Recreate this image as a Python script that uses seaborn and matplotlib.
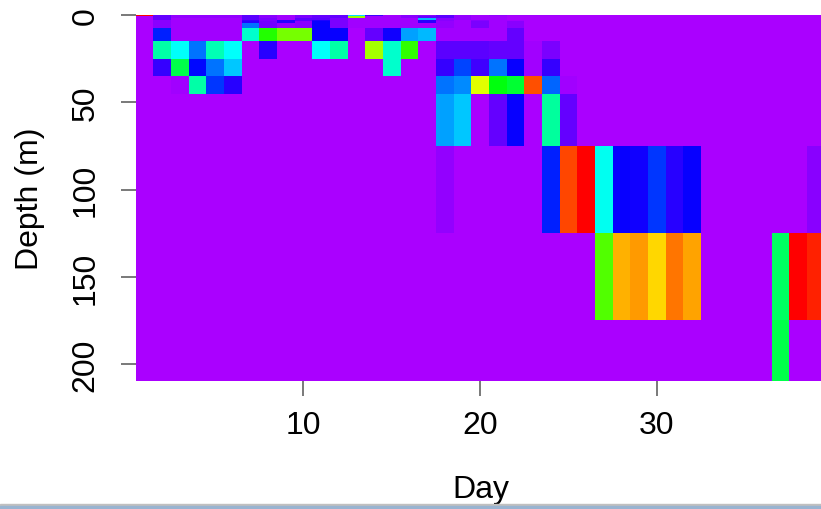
import colorsys

import numpy as np
import matplotlib
matplotlib.use("Agg")
import matplotlib.pyplot as plt
from matplotlib.colors import ListedColormap
from matplotlib.patches import Rectangle
import seaborn as sns

# ---------------------------------------------------------------------
# data: one value per depth level (rows) and day (columns), scale 0-100
# ---------------------------------------------------------------------
days = list(range(1, 40))
depths = [0, 1, 2, 3, 4, 5, 10, 20, 30, 40, 50, 100, 150, 200]
x_ticks = [10, 20, 30]
y_ticks = [0, 50, 100, 150, 200]

#        d1 .. d10                          d11 .. d20                              d21 .. d30                          d31 .. d39
z_0m   = [100, 6, 2, 2, 2, 2, 7, 3, 1, 4,   6, 6, 33, 9, 1, 3, 3, 7, 2, 1,          2, 1, 1, 1, 0, 0, 0, 0, 0, 0,       0, 0, 0, 0, 0, 0, 0, 0, 0]
z_1m   = [0, 6, 2, 2, 2, 2, 7, 3, 1, 4,     6, 6, 70, 1, 1, 3, 6, 7, 2, 1,          1, 0, 0, 0, 0, 0, 0, 0, 0, 0,       0, 0, 0, 0, 0, 0, 0, 0, 0]
z_2m   = [0, 6, 1, 1, 1, 1, 7, 4, 1, 7,     7, 4, 1, 1, 1, 1, 30, 3, 2, 1,          1, 0, 0, 0, 0, 0, 0, 0, 0, 0,       0, 0, 0, 0, 0, 0, 0, 0, 0]
z_3m   = [0, 3, 1, 1, 1, 1, 10, 4, 11, 7,   12, 4, 1, 1, 1, 1, 11, 3, 1, 3,         1, 1, 0, 0, 0, 0, 0, 0, 0, 0,       0, 0, 0, 0, 0, 0, 0, 0, 0]
z_4m   = [0, 3, 1, 1, 1, 1, 11, 5, 11, 3,   14, 4, 1, 1, 1, 1, 11, 2, 1, 4,         1, 3, 0, 0, 0, 0, 0, 0, 0, 0,       0, 0, 0, 0, 0, 0, 0, 0, 0]
z_5m   = [0, 3, 1, 1, 1, 1, 24, 5, 2, 3,    14, 4, 1, 1, 1, 1, 1, 2, 1, 4,          1, 3, 0, 0, 0, 0, 0, 0, 0, 0,       0, 0, 0, 0, 0, 0, 0, 0, 0]
z_10m  = [0, 17, 1, 1, 1, 1, 40, 60, 67, 67, 14, 14, 0, 6, 13, 28, 30, 1, 1, 1,     1, 6, 0, 0, 0, 0, 0, 0, 0, 0,       0, 0, 0, 0, 0, 0, 0, 0, 0]
z_20m  = [0, 43, 36, 24, 42, 36, 0, 11, 0, 0, 36, 43, 0, 71, 40, 61, 0, 7, 7, 7,    6, 6, 1, 4, 0, 0, 0, 0, 0, 0,       0, 0, 0, 0, 0, 0, 0, 0, 0]
z_30m  = [0, 10, 51, 15, 24, 31, 0, 0, 0, 0, 0, 0, 0, 0, 40, 0, 0, 10, 20, 9,       24, 14, 1, 10, 0, 0, 0, 0, 0, 0,   0, 0, 0, 0, 0, 0, 0, 0, 0]
z_40m  = [0, 0, 1, 43, 19, 11, 0, 0, 0, 0,  0, 0, 0, 0, 0, 0, 0, 24, 26, 76,        56, 53, 93, 23, 1, 0, 0, 0, 0, 0,   0, 0, 0, 0, 0, 0, 0, 0, 0]
z_50m  = [0, 0, 0, 0, 0, 0, 0, 0, 0, 0,     0, 0, 0, 0, 0, 0, 0, 28, 31, 0,         6, 14, 0, 44, 6, 0, 0, 0, 0, 0,     0, 0, 0, 0, 0, 0, 0, 0, 0]
z_100m = [0, 0, 0, 0, 0, 0, 0, 0, 0, 0,     0, 0, 0, 0, 0, 0, 0, 2, 0, 0,           0, 0, 0, 17, 94, 100, 37, 14, 13, 19, 11, 14, 0, 0, 0, 0, 0, 0, 3]
z_150m = [0, 0, 0, 0, 0, 0, 0, 0, 0, 0,     0, 0, 0, 0, 0, 0, 0, 0, 0, 0,           0, 0, 0, 0, 0, 0, 64, 85, 87, 82,   90, 86, 0, 0, 0, 0, 49, 100, 97]
z_200m = [0, 0, 0, 0, 0, 0, 0, 0, 0, 0,     0, 0, 0, 0, 0, 0, 0, 0, 0, 0,           0, 0, 0, 0, 0, 0, 0, 0, 0, 0,       0, 0, 0, 0, 0, 0, 51, 0, 0]

z = np.array([z_0m, z_1m, z_2m, z_3m, z_4m, z_5m, z_10m, z_20m,
              z_30m, z_40m, z_50m, z_100m, z_150m, z_200m], dtype=float)

# R-style rainbow, purple (low) -> red (high)
cmap = ListedColormap([colorsys.hsv_to_rgb((1 - i / 255) * 280 / 360, 1, 1)
                       for i in range(256)])

sns.set_style("ticks")
plt.rcParams["font.family"] = ["Liberation Sans", "DejaVu Sans"]
plt.rcParams["text.color"] = "black"
plt.rcParams["axes.labelcolor"] = "black"

fig = plt.figure(figsize=(8.21, 5.10), dpi=100)
ax = fig.add_axes([135.5 / 821, 1 - 382 / 510, 1 - 135.5 / 821, (382 - 16.3) / 510])

ax.pcolormesh(days, depths, z, shading="nearest", cmap=cmap, vmin=0, vmax=100,
              edgecolor="none", linewidth=0, antialiased=False)
ax.set_xlim(0.5, 39.3)
ax.set_ylim(209.7, 0)

for s in ax.spines.values():
    s.set_visible(False)

ax.set_xticks(x_ticks)
ax.set_yticks(y_ticks)
ax.set_yticklabels([str(t) for t in y_ticks], rotation=90, va="center")
ax.tick_params(axis="both", direction="out", length=11, width=1.1,
               color="#555555", labelcolor="black", labelsize=23)
ax.tick_params(axis="x", pad=10)
ax.tick_params(axis="y", pad=14)

ax.set_xlabel("Day", fontsize=23)
ax.set_ylabel("Depth (m)", fontsize=23)
ax.xaxis.set_label_coords(0.504, -0.295)
ax.xaxis.label.set_va("center")
ax.yaxis.set_label_coords(-0.154, 0.5)
ax.yaxis.label.set_va("center")

# window border strip at the bottom of the screenshot
fig.patches.append(Rectangle((0, 0), 1, 5 / 510, transform=fig.transFigure,
                             color="#c0c0c0", zorder=5))
fig.patches.append(Rectangle((0, 0), 1, 3 / 510, transform=fig.transFigure,
                             color="#99b4d1", zorder=6))

fig.savefig("out.png", dpi=100)
